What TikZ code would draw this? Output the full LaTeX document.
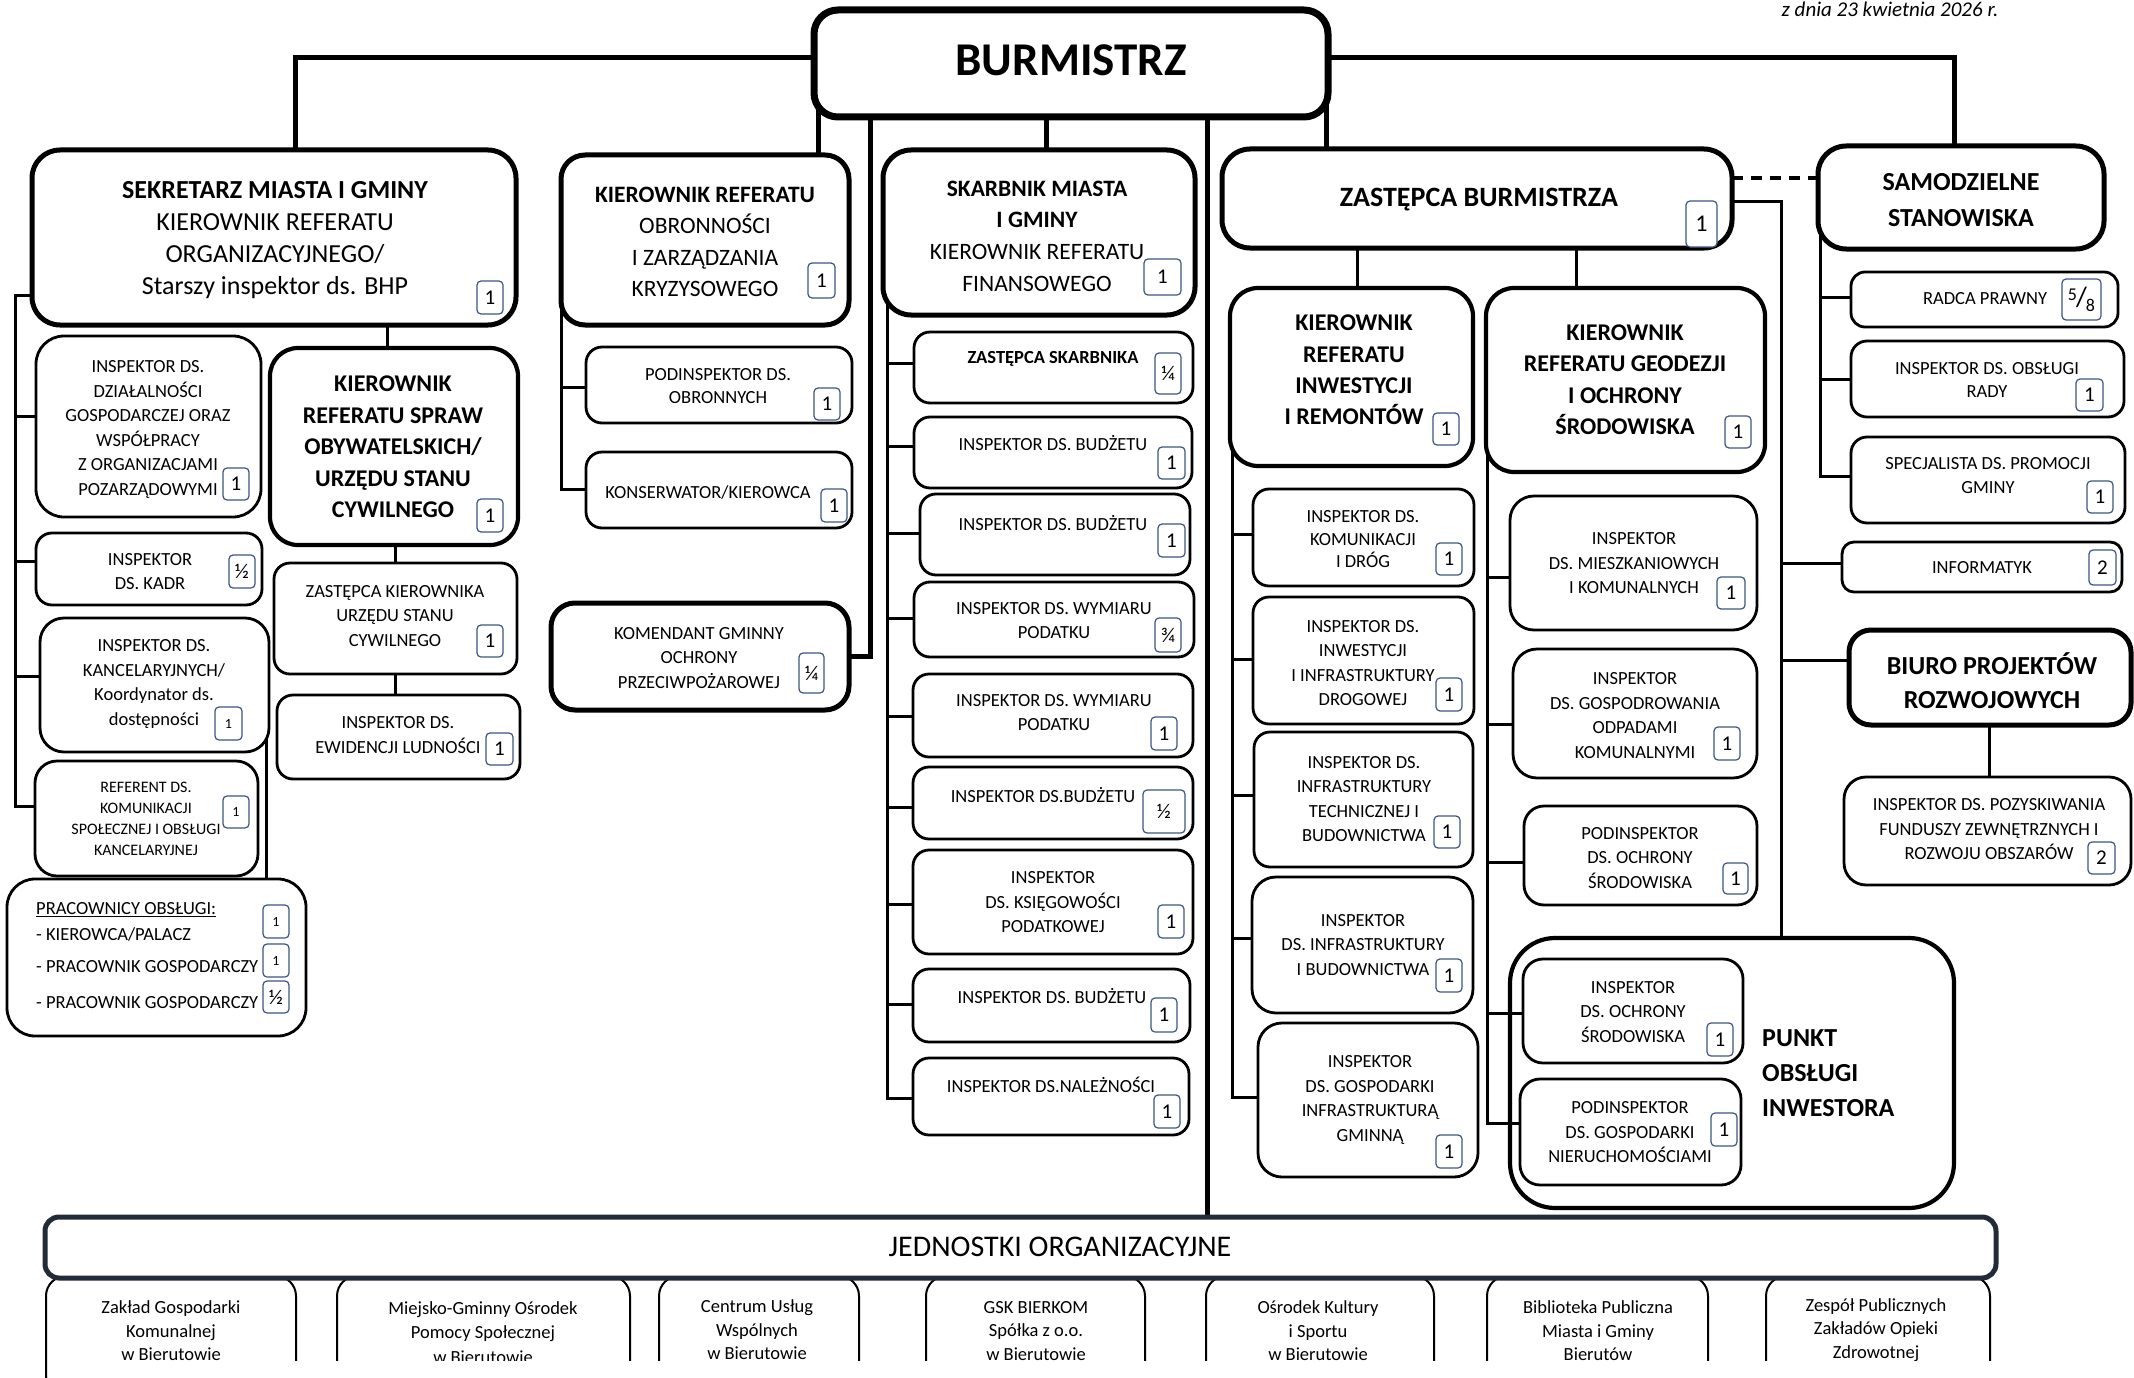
\documentclass[tikz,border=0pt]{standalone}
\usepackage{fontspec}
\setmainfont{Carlito}
\usetikzlibrary{calc}
\definecolor{bdgc}{RGB}{60,85,130}
\definecolor{navy}{RGB}{35,43,56}
\pgfdeclarelayer{bg}
\pgfsetlayers{bg,main}
\newcommand{\fs}[2]{\fontsize{#1}{#2}\selectfont}
\newcommand{\bx}[6]{\node[#2,minimum width={#5-#3},minimum height={#6-#4}] (#1) at ({(#3+#5)/2},{(#4+#6)/2}) {};}
\newcommand{\bd}[6]{\node[bdg,minimum width={#4-#2},minimum height={#5-#3}] (#1) at ({(#2+#4)/2},{(#3+#5)/2}) {#6};}
\begin{document}
\begin{tikzpicture}[x=1pt,y=-1pt,
 box/.style={draw=black,line width=2.8pt,rounded corners=16pt,fill=white,inner sep=0pt,outer sep=0pt},
 tbox/.style={box,line width=5pt,rounded corners=28pt},
 mbox/.style={box,line width=4.2pt,rounded corners=28pt},
 ubox/.style={draw=black,line width=2pt,rounded corners=20pt,fill=white,inner sep=0pt,outer sep=0pt},
 bdg/.style={draw=bdgc,line width=1.2pt,rounded corners=4pt,fill=white,inner sep=0pt,font=\fs{21}{21}},
 txt/.style={align=center,inner sep=0pt,font=\fs{18.5}{24.5}},
 conn/.style={line width=3pt},
 mainc/.style={line width=5pt}]
\useasboundingbox (0,0) rectangle (2134,1378);
\begin{pgfonlayer}{bg}
\fill[white] (0,0) rectangle (2134,1378);
\end{pgfonlayer}

\node[inner sep=0pt,font=\itshape\fs{21}{21}] (date) at (1890,9) {z dnia 23 kwietnia 2026 r.};

% ---------- BURMISTRZ
\bx{burm}{tbox,line width=7pt,rounded corners=24pt}{814}{10}{1328}{117}
\node[txt,font=\bfseries\fs{47}{47}] (burmt) at (1071,60) {BURMISTRZ};

% ---------- SEKRETARZ
\bx{sek}{tbox}{32}{150}{516}{325}
\node[txt,font=\fs{26}{32}] (sekt) at (275,240) {{\bfseries SEKRETARZ MIASTA I GMINY}\\KIEROWNIK REFERATU\\ORGANIZACYJNEGO/\\Starszy inspektor ds. BHP};
\bd{sekb}{477}{281}{503}{314}{1}

\bx{dzial}{box,rounded corners=28pt}{36}{336}{261}{517}
\node[txt,font=\fs{18.5}{24.6}] (dzialt) at (148,429.5) {INSPEKTOR DS.\\DZIAŁALNOŚCI\\GOSPODARCZEJ ORAZ\\WSPÓŁPRACY\\Z ORGANIZACJAMI\\POZARZĄDOWYMI};
\bd{dzialb}{223}{468}{249}{500}{1}

\bx{kadr}{box}{36}{533}{262}{605}
\node[txt] (kadrt) at (150,571.5) {INSPEKTOR\\DS. KADR};
\bd{kadrb}{229}{555}{255}{588}{½}

\bx{kanc}{box,rounded corners=24pt}{40}{618}{269}{752}
\node[txt,font=\fs{18.5}{24.7}] (kanct) at (154,684) {INSPEKTOR DS.\\KANCELARYJNYCH/\\Koordynator ds.\\dostępności};
\bd{kancb}{215}{707}{242}{740}{\fs{14}{14}1}

\bx{ref}{box,rounded corners=22pt}{35}{761}{258}{876}
\node[txt,font=\fs{16}{21}] (reft) at (146,818.5) {REFERENT DS.\\KOMUNIKACJI\\SPOŁECZNEJ I OBSŁUGI\\KANCELARYJNEJ};
\bd{refb}{223}{796}{249}{828}{\fs{14}{14}1}

\bx{prac}{box,rounded corners=28pt}{7}{879}{306}{1036}
\node[txt,anchor=west] (prac1) at (36,910) {\underline{PRACOWNICY OBSŁUGI:}};
\node[txt,anchor=west] (prac2) at (36,934) {- KIEROWCA/PALACZ};
\node[txt,anchor=west] (prac3) at (36,967) {- PRACOWNIK GOSPODARCZY};
\node[txt,anchor=west] (prac4) at (36,1003) {- PRACOWNIK GOSPODARCZY};
\bd{pracb1}{263}{905}{289}{938}{\fs{14}{14}1}
\bd{pracb2}{263}{944}{289}{977}{\fs{14}{14}1}
\bd{pracb3}{263}{981}{289}{1013}{½}

\bx{spraw}{mbox}{270}{348}{518}{545}
\node[txt,font=\bfseries\fs{24}{31.5}] (sprawt) at (393,447) {KIEROWNIK\\REFERATU SPRAW\\OBYWATELSKICH/\\URZĘDU STANU\\CYWILNEGO};
\bd{sprawb}{477}{499}{503}{532}{1}

\bx{zastk}{box}{274}{563}{517}{674}
\node[txt] (zastkt) at (395,616) {ZASTĘPCA KIEROWNIKA\\URZĘDU STANU\\CYWILNEGO};
\bd{zastkb}{477}{625}{503}{657}{1}

\bx{ewid}{box}{277}{695}{520}{779}
\node[txt] (ewidt) at (398,735) {INSPEKTOR DS.\\EWIDENCJI LUDNOŚCI};
\bd{ewidb}{486}{733}{513}{765}{1}

% ---------- OBRONNOSCI
\bx{obr}{tbox,rounded corners=24pt}{561}{155}{849}{325}
\node[txt,font=\fs{23.5}{31.5}] (obrt) at (705,242) {{\bfseries KIEROWNIK REFERATU}\\OBRONNOŚCI\\I ZARZĄDZANIA\\KRYZYSOWEGO};
\bd{obrb}{808}{263}{835}{298}{1}

\bx{pod}{box}{586}{347}{852}{423}
\node[txt,font=\fs{18.5}{23}] (podt) at (718,386) {PODINSPEKTOR DS.\\OBRONNYCH};
\bd{podb}{814}{388}{840}{420}{1}

\bx{kons}{box}{586}{452}{852}{528}
\node[txt] (konst) at (708,492) {KONSERWATOR/KIEROWCA};
\bd{konsb}{821}{489}{847}{522}{1}

\bx{kom}{tbox,rounded corners=24pt}{551}{603}{849}{710}
\node[txt] (komt) at (699,658) {KOMENDANT GMINNY\\OCHRONY\\PRZECIWPOŻAROWEJ};
\bd{komb}{799}{653}{824}{693}{¼}

% ---------- SKARBNIK
\bx{skarb}{tbox}{883}{150}{1195}{315}
\node[txt,font=\fs{23.5}{31.7}] (skarbt) at (1037,236) {{\bfseries SKARBNIK MIASTA}\\{\bfseries I GMINY}\\KIEROWNIK REFERATU\\FINANSOWEGO};
\bd{skarbb}{1144}{259}{1181}{295}{1}

\bx{zsk}{box}{914}{332}{1193}{403}
\node[txt,font=\bfseries\fs{18.5}{24.5}] (zskt) at (1053,359) {ZASTĘPCA SKARBNIKA};
\bd{zskb}{1155}{353}{1181}{394}{¼}

\bx{bud1}{box}{914}{417}{1192}{488}
\node[txt] (bud1t) at (1053,443) {INSPEKTOR DS. BUDŻETU};
\bd{bud1b}{1158}{447}{1185}{479}{1}

\bx{bud2}{box}{920}{494}{1190}{575}
\node[txt] (bud2t) at (1053,523) {INSPEKTOR DS. BUDŻETU};
\bd{bud2b}{1158}{524}{1185}{557}{1}

\bx{wym1}{box}{914}{582}{1194}{657}
\node[txt] (wym1t) at (1054,620.5) {INSPEKTOR DS. WYMIARU\\PODATKU};
\bd{wym1b}{1155}{618}{1181}{652}{¾}

\bx{wym2}{box}{913}{674}{1193}{757}
\node[txt] (wym2t) at (1054,712.5) {INSPEKTOR DS. WYMIARU\\PODATKU};
\bd{wym2b}{1151}{717}{1177}{750}{1}

\bx{budh}{box}{913}{767}{1193}{839}
\node[txt] (budht) at (1043,795) {INSPEKTOR DS.BUDŻETU};
\bd{budhb}{1143}{790}{1185}{833}{½}

\bx{ksieg}{box}{913}{850}{1193}{954}
\node[txt] (ksiegt) at (1053,902.5) {INSPEKTOR\\DS. KSIĘGOWOŚCI\\PODATKOWEJ};
\bd{ksiegb}{1158}{905}{1184}{938}{1}

\bx{bud3}{box}{913}{969}{1190}{1042}
\node[txt] (bud3t) at (1052,996) {INSPEKTOR DS. BUDŻETU};
\bd{bud3b}{1151}{998}{1177}{1032}{1}

\bx{nal}{box}{913}{1058}{1189}{1135}
\node[txt] (nalt) at (1051,1085) {INSPEKTOR DS.NALEŻNOŚCI};
\bd{nalb}{1154}{1095}{1180}{1128}{1}

% ---------- ZASTEPCA
\bx{zast}{tbox}{1222}{149}{1732}{248}
\node[txt,font=\bfseries\fs{28}{28}] (zastt) at (1479,200) {ZASTĘPCA BURMISTRZA};
\bd{zastb}{1686}{201}{1717}{247}{\fs{24}{24}1}

\bx{kinw}{mbox}{1230}{288}{1473}{466}
\node[txt,font=\bfseries\fs{24}{31.3}] (kinwt) at (1354,370) {KIEROWNIK\\REFERATU\\INWESTYCJI\\I REMONTÓW};
\bd{kinwb}{1433}{413}{1459}{445}{1}

\bx{kgeo}{mbox}{1486}{288}{1765}{472}
\node[txt,font=\bfseries\fs{24}{31.5}] (kgeot) at (1625,379.5) {KIEROWNIK\\REFERATU GEODEZJI\\I OCHRONY\\ŚRODOWISKA};
\bd{kgeob}{1725}{416}{1751}{448}{1}

\bx{komun}{box}{1253}{489}{1474}{586}
\node[txt,font=\fs{18.5}{22.5}] (komunt) at (1363,539.5) {INSPEKTOR DS.\\KOMUNIKACJI\\I DRÓG};
\bd{komunb}{1436}{543}{1462}{575}{1}

\bx{inwdrog}{box}{1253}{597}{1474}{724}
\node[txt] (inwdrogt) at (1363,663) {INSPEKTOR DS.\\INWESTYCJI\\I INFRASTRUKTURY\\DROGOWEJ};
\bd{inwdrogb}{1436}{678}{1462}{711}{1}

\bx{tech}{box}{1254}{732}{1473}{867}
\node[txt] (techt) at (1364,799) {INSPEKTOR DS.\\INFRASTRUKTURY\\TECHNICZNEJ I\\BUDOWNICTWA};
\bd{techb}{1434}{816}{1460}{848}{1}

\bx{budow}{box,rounded corners=24pt}{1252}{877}{1473}{1013}
\node[txt] (budowt) at (1363,945) {INSPEKTOR\\DS. INFRASTRUKTURY\\I BUDOWNICTWA};
\bd{budowb}{1436}{959}{1462}{992}{1}

\bx{gmin}{box,rounded corners=24pt}{1258}{1023}{1478}{1177}
\node[txt] (gmint) at (1370,1100) {INSPEKTOR\\DS. GOSPODARKI\\INFRASTRUKTURĄ\\GMINNĄ};
\bd{gminb}{1436}{1135}{1462}{1168}{1}

\bx{mieszk}{box,rounded corners=24pt}{1510}{496}{1757}{630}
\node[txt] (mieszkt) at (1634,563.5) {INSPEKTOR\\DS. MIESZKANIOWYCH\\I KOMUNALNYCH};
\bd{mieszkb}{1717}{577}{1745}{609}{1}

\bx{odp}{box,rounded corners=24pt}{1513}{649}{1757}{778}
\node[txt] (odpt) at (1635,715.5) {INSPEKTOR\\DS. GOSPODROWANIA\\ODPADAMI\\KOMUNALNYMI};
\bd{odpb}{1714}{727}{1740}{760}{1}

\bx{podoch}{box,rounded corners=20pt}{1524}{806}{1757}{905}
\node[txt] (podocht) at (1640,858) {PODINSPEKTOR\\DS. OCHRONY\\ŚRODOWISKA};
\bd{podochb}{1723}{863}{1748}{894}{1}

\bx{punkt}{mbox,fill=none,rounded corners=45pt}{1510}{938}{1954}{1208}
\node[txt,align=left,anchor=west,font=\bfseries\fs{26}{35}] (punktt) at (1762,1073) {PUNKT\\OBSŁUGI\\INWESTORA};

\bx{inspoch}{box,rounded corners=20pt}{1523}{959}{1743}{1063}
\node[txt] (inspocht) at (1633,1012) {INSPEKTOR\\DS. OCHRONY\\ŚRODOWISKA};
\bd{inspochb}{1707}{1023}{1733}{1056}{1}

\bx{podgosp}{box,rounded corners=20pt}{1520}{1079}{1741}{1185}
\node[txt] (podgospt) at (1630,1132.5) {PODINSPEKTOR\\DS. GOSPODARKI\\NIERUCHOMOŚCIAMI};
\bd{podgospb}{1711}{1113}{1737}{1146}{1}

% ---------- SAMODZIELNE
\bx{samo}{tbox}{1818}{146}{2104}{249}
\node[txt,font=\bfseries\fs{26}{36}] (samot) at (1961,200) {SAMODZIELNE\\STANOWISKA};

\bx{radca}{box,rounded corners=14pt}{1851}{272}{2118}{327}
\node[txt] (radcat) at (1985,299) {RADCA PRAWNY};
\bd{radcab}{2062}{279}{2101}{320}{\raisebox{6pt}{\fs{18}{18}5}\kern-1pt{\fs{28}{28}/}\kern-1pt\raisebox{-5pt}{\fs{18}{18}8}}

\bx{rady}{box}{1851}{341}{2124}{417}
\node[txt,font=\fs{18.5}{23}] (radyt) at (1987,379.5) {INSPEKTOR DS. OBSŁUGI\\RADY};
\bd{radyb}{2076}{379}{2103}{411}{1}

\bx{spec}{box}{1851}{437}{2125}{523}
\node[txt] (spect) at (1988,475.5) {SPECJALISTA DS. PROMOCJI\\GMINY};
\bd{specb}{2087}{481}{2113}{513}{1}

\bx{info}{box,rounded corners=12pt}{1842}{542}{2122}{592}
\node[txt] (infot) at (1982,568) {INFORMATYK};
\bd{infob}{2089}{550}{2116}{585}{2}

\bx{biuro}{tbox,rounded corners=22pt}{1849}{630}{2131}{725}
\node[txt,font=\bfseries\fs{26}{34}] (biurot) at (1992,681) {BIURO PROJEKTÓW\\ROZWOJOWYCH};

\bx{pozysk}{box,rounded corners=22pt}{1844}{777}{2131}{885}
\node[txt] (pozyskt) at (1989,829.5) {INSPEKTOR DS. POZYSKIWANIA\\FUNDUSZY ZEWNĘTRZNYCH I\\ROZWOJU OBSZARÓW};
\bd{pozyskb}{2088}{842}{2115}{874}{2}

% ---------- JEDNOSTKI
\bx{j1}{ubox}{46}{1276}{296}{1395}
\bx{j2}{ubox}{337}{1276}{630}{1395}
\bx{j3}{ubox}{659}{1276}{859}{1395}
\bx{j4}{ubox}{926}{1276}{1145}{1395}
\bx{j5}{ubox}{1206}{1276}{1434}{1395}
\bx{j6}{ubox}{1487}{1276}{1708}{1395}
\bx{j7}{ubox}{1766}{1276}{1990}{1395}
\node[txt,font=\fs{18.5}{23.5}] (j1t) at (171,1331) {Zakład Gospodarki\\Komunalnej\\w Bierutowie};
\node[txt,font=\fs{18.5}{24.5}] (j2t) at (483,1332.5) {Miejsko-Gminny Ośrodek\\Pomocy Społecznej\\w Bierutowie};
\node[txt,font=\fs{18.5}{23.5}] (j3t) at (757,1330) {Centrum Usług\\Wspólnych\\w Bierutowie};
\node[txt,font=\fs{18.5}{23.5}] (j4t) at (1036,1331) {GSK BIERKOM\\Spółka z o.o.\\w Bierutowie};
\node[txt,font=\fs{18.5}{23.5}] (j5t) at (1318,1331) {Ośrodek Kultury\\i Sportu\\w Bierutowie};
\node[txt,font=\fs{18.5}{23.5}] (j6t) at (1598,1331) {Biblioteka Publiczna\\Miasta i Gminy\\Bierutów};
\node[txt,font=\fs{18.5}{23.5}] (j7t) at (1876,1330) {Zespół Publicznych\\Zakładów Opieki\\Zdrowotnej};
\fill[white] (52,1361) rectangle (2140,1400);
\bx{jedn}{box,draw=navy,line width=5pt,rounded corners=14pt}{45}{1217}{1996}{1278}
\node[txt,font=\fs{30}{30}] (jednt) at (1060,1247) {JEDNOSTKI ORGANIZACYJNE};

% ---------- CONNECTORS
\coordinate (lsp) at (15,806);
\coordinate (kancr) at (266,738);
\begin{pgfonlayer}{bg}
\draw[mainc] (burm.west |- 0,58) -| (sek.north -| 295,0);
\draw[mainc] (burm.east |- 0,58) -| (samo.north -| 1954,0);
\draw[mainc] (burm.west -| 818,0) -- (obr.north -| 818,0);
\draw[mainc] (burm.south -| 870,0) |- (kom.east);
\draw[mainc] (burm.south -| 1046,0) -- (skarb.north -| 1046,0);
\draw[mainc] (burm.south -| 1207,0) -- (jedn.north -| 1207,0);
\draw[mainc] (burm.east -| 1326,0) -- (zast.north -| 1326,0);
% sekretarz
\draw[conn] (sek.west |- 0,295) -| (lsp) -- (ref.west |- lsp);
\draw[conn] (lsp |- 0,416) -- (dzial.west |- 0,416);
\draw[conn] (lsp |- 0,561) -- (kadr.west |- 0,561);
\draw[conn] (lsp |- 0,676) -- (kanc.west |- 0,676);
\draw[conn] (sek.south -| 387,0) -- (spraw.north -| 387,0);
\draw[conn] (spraw.south -| 395,0) -- (zastk.north -| 395,0);
\draw[conn] (zastk.south -| 395,0) -- (ewid.north -| 395,0);
\draw[conn] (kancr) -- (prac.north -| kancr);
% obronnosci
\draw[conn] (obr.west) |- (kons.west |- 0,489);
\draw[conn] (obr.west |- 0,387) -- (pod.west |- 0,387);
% skarbnik
\draw[conn] (skarb.west -| 887,0) |- (nal.west |- 0,1098);
\foreach \n/\yy in {zsk/363,bud1/446,bud2/533,wym1/618,wym2/716,budh/807,ksieg/904,bud3/1004}
  {\draw[conn] (887,\yy) -- (\n.west |- 0,\yy);}
% zastepca
\draw[conn] (zast.south -| 1357,0) -- (kinw.north -| 1357,0);
\draw[conn] (zast.south -| 1576,0) -- (kgeo.north -| 1576,0);
\draw[conn] (kinw.west -| 1232,0) |- (gmin.west |- 0,1097);
\foreach \n/\yy in {komun/534,inwdrog/659,tech/795,budow/938}
  {\draw[conn] (1232,\yy) -- (\n.west |- 0,\yy);}
\draw[conn] (kgeo.west -| 1487,0) |- (podgosp.west |- 0,1123);
\foreach \n/\yy in {mieszk/577,odp/724,podoch/862,inspoch/1013}
  {\draw[conn] (1487,\yy) -- (\n.west |- 0,\yy);}
\draw[conn] (zast.east |- 0,201) -| (punkt.north -| 1781,0);
\draw[conn] (1781,563) -- (info.west |- 0,563);
\draw[conn] (1781,660) -- (biuro.west |- 0,660);
\draw[line width=4pt,dash pattern=on 11pt off 8pt] (zast.east |- 0,178) -- (samo.west |- 0,178);
% samodzielne
\draw[conn] (samo.west -| 1820,0) |- (spec.west |- 0,476);
\draw[conn] (1820,297) -- (radca.west |- 0,297);
\draw[conn] (1820,379) -- (rady.west |- 0,379);
\draw[conn] (biuro.south -| 1989,0) -- (pozysk.north -| 1989,0);
\end{pgfonlayer}
\end{tikzpicture}
\end{document}
